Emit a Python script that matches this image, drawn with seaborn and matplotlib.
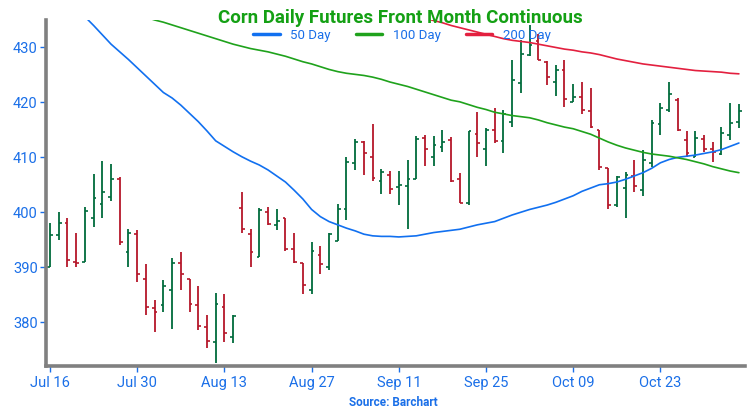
import numpy as np
import pandas as pd
import matplotlib
matplotlib.use("Agg")
import matplotlib.pyplot as plt
import seaborn as sns

# ---------------- data ----------------
tick_labels = ["Jul 16", "Jul 30", "Aug 13", "Aug 27", "Sep 11", "Sep 25", "Oct 09", "Oct 23"]
tick_bars = [0, 10, 20, 30, 40, 50, 60, 70]

opens = [390.0, 395.9, 398.0, 390.9, 390.9, 398.9, 401.5, 402.8, 406.0, 392.7,
         396.0, 387.9, 382.5, 383.1, 385.8, 390.7, 387.9, 383.1, 379.1, 376.4,
         382.8, 377.3, 400.7, 396.0, 391.9, 400.1, 397.6, 398.9, 393.3, 390.8,
         385.8, 392.2, 390.0, 394.8, 400.6, 408.9, 412.8, 410.0, 405.6, 406.8,
         404.6, 404.8, 406.1, 413.5, 410.1, 411.9, 413.2, 406.1, 401.6, 414.2,
         411.6, 415.0, 413.0, 416.4, 423.6, 428.6, 431.2, 427.4, 423.7, 425.9,
         420.1, 420.9, 418.5, 415.0, 408.0, 401.3, 404.4, 406.6, 404.0, 408.9,
         416.0, 418.7, 420.5, 413.1, 410.1, 413.3, 411.5, 410.6, 414.1, 416.5]
highs = [398.0, 400.0, 398.9, 396.2, 401.0, 407.0, 409.4, 408.7, 406.4, 396.9,
         396.8, 390.5, 384.1, 387.7, 391.7, 392.8, 387.9, 386.6, 381.2, 385.3,
         385.1, 381.2, 403.6, 397.0, 400.7, 400.9, 400.5, 398.9, 396.2, 390.8,
         394.5, 393.9, 396.2, 401.5, 410.0, 413.4, 413.0, 416.0, 407.9, 407.5,
         407.5, 409.5, 413.9, 414.0, 413.8, 414.9, 413.7, 407.2, 414.7, 418.2,
         415.3, 419.0, 418.7, 427.7, 431.4, 434.0, 432.5, 427.6, 426.8, 427.7,
         423.3, 423.7, 422.7, 415.0, 408.0, 406.6, 407.4, 409.5, 411.3, 416.8,
         419.8, 423.8, 420.8, 414.8, 414.7, 414.1, 412.8, 415.6, 419.8, 419.7]
lows = [390.0, 395.0, 390.0, 390.0, 390.9, 397.3, 398.9, 402.0, 394.1, 390.0,
        387.3, 381.2, 378.1, 381.9, 378.8, 385.9, 381.9, 378.6, 375.3, 372.5,
        376.4, 376.1, 396.2, 390.1, 391.9, 397.7, 396.7, 393.0, 390.7, 385.1,
        385.1, 388.8, 389.4, 394.7, 398.6, 407.6, 406.8, 405.6, 403.3, 403.4,
        401.4, 396.9, 406.1, 408.5, 408.5, 411.0, 405.5, 401.6, 401.4, 410.1,
        408.5, 412.6, 410.8, 415.6, 421.7, 428.4, 427.7, 423.1, 421.1, 419.1,
        420.1, 417.9, 415.3, 407.6, 400.5, 400.9, 399.0, 403.6, 403.0, 408.3,
        414.1, 418.3, 414.7, 410.0, 410.1, 411.0, 409.2, 410.4, 413.1, 415.3]
closes = [395.9, 398.1, 391.3, 390.7, 400.3, 402.5, 403.6, 406.0, 394.5, 396.2,
          388.8, 382.7, 381.9, 386.6, 390.7, 388.8, 383.3, 379.2, 376.6, 383.3,
          378.0, 381.1, 397.0, 392.7, 400.4, 397.9, 398.4, 393.3, 390.9, 386.7,
          393.0, 390.6, 396.1, 400.6, 409.2, 412.8, 410.8, 406.2, 407.4, 404.2,
          404.9, 406.1, 413.4, 411.5, 412.3, 412.8, 405.6, 401.6, 414.7, 412.6,
          415.0, 413.0, 417.8, 424.0, 428.9, 430.4, 427.8, 424.7, 425.9, 420.7,
          420.9, 418.6, 415.5, 408.2, 401.3, 406.5, 406.8, 404.7, 409.5, 416.2,
          418.9, 421.5, 415.0, 410.8, 413.6, 411.5, 411.0, 414.4, 416.3, 418.4]

ma50 = [441.5, 440.0, 438.5, 437.0, 435.6, 434.0, 432.3, 430.6, 429.2, 427.8,
        426.3, 424.8, 423.3, 421.8, 420.8, 419.5, 418.0, 416.5, 414.8, 413.0,
        412.0, 411.0, 410.1, 409.3, 408.6, 407.7, 406.6, 405.5, 404.0, 402.4,
        400.5, 399.2, 398.3, 397.7, 397.1, 396.6, 396.0, 395.7, 395.6, 395.6,
        395.5, 395.6, 395.7, 396.0, 396.3, 396.5, 396.7, 396.9, 397.3, 397.7,
        398.0, 398.3, 398.9, 399.5, 400.0, 400.5, 400.9, 401.3, 401.8, 402.4,
        403.0, 403.8, 404.4, 405.0, 405.2, 405.5, 406.0, 406.6, 407.2, 408.0,
        409.0, 409.6, 410.0, 410.2, 410.4, 410.7, 411.0, 411.4, 412.0, 412.6]
ma100 = [441.0, 440.5, 440.0, 439.5, 439.0, 438.5, 438.0, 437.5, 437.0, 436.5,
         436.0, 435.5, 435.0, 434.6, 434.1, 433.6, 433.1, 432.6, 432.1, 431.6,
         431.1, 430.6, 430.2, 429.8, 429.5, 429.2, 428.8, 428.4, 427.9, 427.4,
         427.0, 426.5, 426.0, 425.6, 425.3, 425.1, 424.9, 424.6, 424.2, 423.7,
         423.3, 422.9, 422.4, 421.9, 421.4, 420.9, 420.4, 420.1, 419.6, 419.1,
         418.7, 418.2, 417.9, 417.6, 417.4, 417.2, 416.8, 416.3, 415.9, 415.5,
         415.2, 414.7, 414.2, 413.5, 412.8, 412.2, 411.7, 411.3, 410.9, 410.6,
         410.4, 410.2, 409.9, 409.6, 409.2, 408.8, 408.3, 407.9, 407.5, 407.2]
ma200 = [None] * 40 + [
         436.5, 436.1, 435.7, 435.3, 434.9, 434.5, 434.0, 433.6, 433.2, 432.8,
         432.4, 432.0, 431.6, 431.3, 431.1, 430.9, 430.6, 430.3, 430.0, 429.7,
         429.5, 429.2, 429.0, 428.7, 428.3, 427.9, 427.6, 427.3, 427.0, 426.8,
         426.6, 426.4, 426.2, 426.0, 425.8, 425.7, 425.6, 425.5, 425.3, 425.2]

# ---------------- style ----------------
sns.set_style("white")
plt.rcParams["font.family"] = ["Roboto", "DejaVu Sans"]

BLUE_TXT = "#1a6fe8"
UP = "#006b3c"
DOWN = "#b5172a"
C50 = "#1170f0"
C100 = "#1fa21c"
C200 = "#e3203f"

fig = plt.figure(figsize=(7.5, 4.2), dpi=100)
ax = fig.add_axes([46 / 750, 1 - 366 / 420, (745 - 46) / 750, (366 - 20) / 420])

df = pd.DataFrame({"bar": np.arange(len(opens)), "open": opens, "high": highs,
                   "low": lows, "close": closes})
df["color"] = np.where(df["close"] >= df["open"], UP, DOWN)

# OHLC bars
ax.vlines(df["bar"], df["low"], df["high"], colors=df["color"], linewidth=1.3, zorder=2)
ax.hlines(df["open"], df["bar"] - 0.32, df["bar"], colors=df["color"], linewidth=1.2, zorder=2)
ax.hlines(df["close"], df["bar"], df["bar"] + 0.32, colors=df["color"], linewidth=1.2, zorder=2)

# moving averages
ma = pd.DataFrame({"bar": np.arange(len(opens)),
                   "50 Day": ma50, "100 Day": ma100,
                   "200 Day": pd.to_numeric(pd.Series(ma200), errors="coerce")})
for name, col in [("50 Day", C50), ("100 Day", C100), ("200 Day", C200)]:
    sub = ma[["bar", name]].dropna()
    sns.lineplot(data=sub, x="bar", y=name, ax=ax, color=col, linewidth=1.2,
                 label=name, zorder=3)

ax.set_xlim(-0.46, 79.7)
ax.set_ylim(372.0, 435.0)
ax.set_xticks(tick_bars)
ax.set_xticklabels(tick_labels)
ax.set_yticks([380, 390, 400, 410, 420, 430])
ax.set_xlabel("")
ax.set_ylabel("")

ax.tick_params(axis="both", colors=BLUE_TXT, labelsize=10.5, length=4, width=1,
               direction="out", left=True, bottom=True)
ax.tick_params(axis="x", pad=3)
ax.tick_params(axis="y", pad=2)

for s in ["top", "right"]:
    ax.spines[s].set_visible(False)
for s in ["left", "bottom"]:
    ax.spines[s].set_color("#808080")
    ax.spines[s].set_linewidth(2.6)

leg = ax.legend(loc="center", bbox_to_anchor=(402 / 750, 1 - 35 / 420),
                bbox_transform=fig.transFigure, ncol=3, frameon=False,
                fontsize=9.5, handlelength=2.0, columnspacing=1.9,
                handletextpad=0.8)
for t in leg.get_texts():
    t.set_color(BLUE_TXT)
for h in leg.get_lines():
    h.set_linewidth(2.5)

fig.text(400 / 750, 1 - 18 / 420, "Corn Daily Futures Front Month Continuous",
         ha="center", va="center", color="#14a014", fontsize=13.5, fontweight="bold")
fig.text(393 / 750, 1 - 402 / 420, "Source: Barchart", ha="center", va="center",
         color=BLUE_TXT, fontsize=8.5, fontweight="bold")

fig.savefig("out.png", dpi=100)
